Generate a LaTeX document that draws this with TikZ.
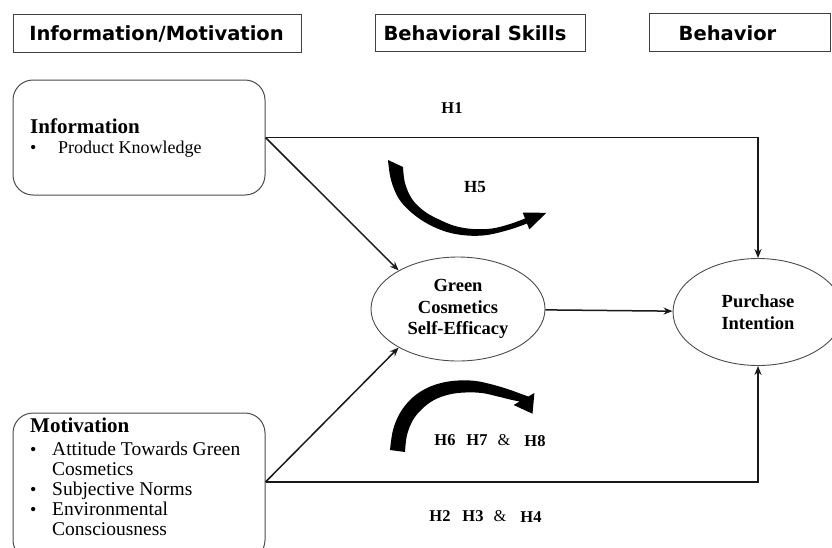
\documentclass[tikz,border=0pt]{standalone}
\usepackage{fontspec}
\setmainfont{Liberation Serif}
\newfontfamily\hdrfont{DejaVu Sans}
\usetikzlibrary{shapes.geometric,arrows.meta}
\begin{document}
\begin{tikzpicture}[x=1pt,y=-1pt,
  hdrbox/.style={draw=black!75,line width=0.9pt,inner sep=0pt},
  hdrtext/.style={anchor=base,inner sep=0pt,font=\hdrfont\bfseries\fontsize{19.5}{22}\selectfont},
  roundbox/.style={draw=black!70,line width=1pt,rounded corners=20pt,inner sep=0pt,minimum width=252pt},
  headtext/.style={anchor=base west,inner sep=0pt,font=\bfseries\fontsize{21}{24}\selectfont},
  itemtext/.style={anchor=base west,inner sep=0pt,font=\fontsize{19.5}{22}\selectfont},
  bullettext/.style={anchor=base west,inner sep=0pt,font=\fontsize{18}{22}\selectfont},
  oval/.style={ellipse,draw=black!70,line width=0.9pt,inner sep=0pt,align=center,font=\bfseries\fontsize{18.5}{21.5}\selectfont},
  conn/.style={draw=black!90,line width=1.5pt,-{Stealth[length=9pt,width=7pt]}},
  hlabel/.style={anchor=base,inner sep=0pt,font=\bfseries\fontsize{16.5}{18}\selectfont},
  amp/.style={anchor=base,inner sep=0pt,font=\fontsize{16.5}{18}\selectfont}]
\useasboundingbox (0,0) rectangle (832,547);
\fill[white] (0,0) rectangle (832,547);
\clip (0,0) rectangle (832,547);

% header boxes
\node[hdrbox,minimum width=288pt,minimum height=38pt] (hb1) at (157,33) {};
\node[hdrbox,minimum width=210pt,minimum height=37pt] (hb2) at (480,32.5) {};
\node[hdrbox,minimum width=181pt,minimum height=38pt] (hb3) at (739.5,32) {};
\node[hdrtext] (ht1) at (156.5,40) {Information/Motivation};
\node[hdrtext] (ht2) at (475,40) {Behavioral Skills};
\node[hdrtext] (ht3) at (727.5,40) {Behavior};

% left boxes
\node[roundbox,minimum height=115pt] (info) at (139,137.5) {};
\node[roundbox,minimum height=147pt] (motiv) at (139,486.5) {};
\path (motiv.east) ++(0,-4.5) coordinate (mout);

\node[headtext] (infot) at (30,133) {Information};
\node[bullettext] (ib1) at (30,153) {\textbullet};
\node[bullettext] (ii1) at (58,153) {Product Knowledge};

\node[headtext] (motivt) at (30,432) {Motivation};
\node[bullettext] (mb1) at (30,455) {\textbullet};
\node[itemtext] (mi1) at (52,455) {Attitude Towards Green};
\node[itemtext] (mi1b) at (52,475) {Cosmetics};
\node[bullettext] (mb2) at (30,495) {\textbullet};
\node[itemtext] (mi2) at (52,495) {Subjective Norms};
\node[bullettext] (mb3) at (30,515) {\textbullet};
\node[itemtext] (mi3) at (52,515) {Environmental};
\node[itemtext] (mi3b) at (52,535) {Consciousness};

% ovals
\node[oval,minimum width=174pt,minimum height=104pt] (green) at (458,309) {Green\\Cosmetics\\Self-Efficacy};
\node[oval,minimum width=170pt,minimum height=107pt] (purch) at (758,312) {Purchase\\Intention};

% connectors
\draw[conn] (info.east) -- (green.147);
\draw[conn] (info.east) -| (purch.north);
\draw[conn] (mout) -- (green.213);
\draw[conn] (mout) -| (purch.south);
\draw[conn] (green) -- (purch);

% curved block arrows
\fill[black] plot[smooth,tension=0.6] coordinates {(388,160) (391,180) (399,199) (412,213) (428,224) (447,232) (467,235.5) (487,235) (510,229.5) (527,223.5)}
  -- (529.3,229.4) -- (546.4,212.8) -- (522.7,212.6)
  -- plot[smooth,tension=0.6] coordinates {(525,218.5) (510,224) (492,228.5) (473,229) (455,226) (438,219) (424,211) (412,199) (405,183) (403,167)}
  -- cycle;

\fill[black] plot[smooth,tension=0.6] coordinates {(390,450) (393,430) (400,413) (411,399) (425,389) (441,383) (458,380.5) (476,381) (494,385) (509,389.5) (520,393.5) (528.3,396.5)}
  -- (534.4,393) -- (532.5,413.7) -- (513.6,405)
  -- plot[smooth,tension=0.6] coordinates {(519.7,401.5) (510,399.5) (498,396.5) (482,393) (465,392.5) (449,394.5) (434,400) (422,409) (413,420) (407,435) (405,452)}
  -- cycle;

% labels
\node[hlabel] (h1) at (452,113) {H1};
\node[hlabel,font=\bfseries\fontsize{17}{19}\selectfont] (h5) at (475,192) {H5};
\node[hlabel] (h6) at (445,445) {H6};
\node[hlabel] (h7) at (477,445) {H7};
\node[amp] (amp1) at (504,445) {\&};
\node[hlabel] (h8) at (535,446) {H8};
\node[hlabel] (h2) at (440,521) {H2};
\node[hlabel] (h3) at (473,521) {H3};
\node[amp] (amp2) at (500,521) {\&};
\node[hlabel] (h4) at (531,522) {H4};
\end{tikzpicture}
\end{document}
